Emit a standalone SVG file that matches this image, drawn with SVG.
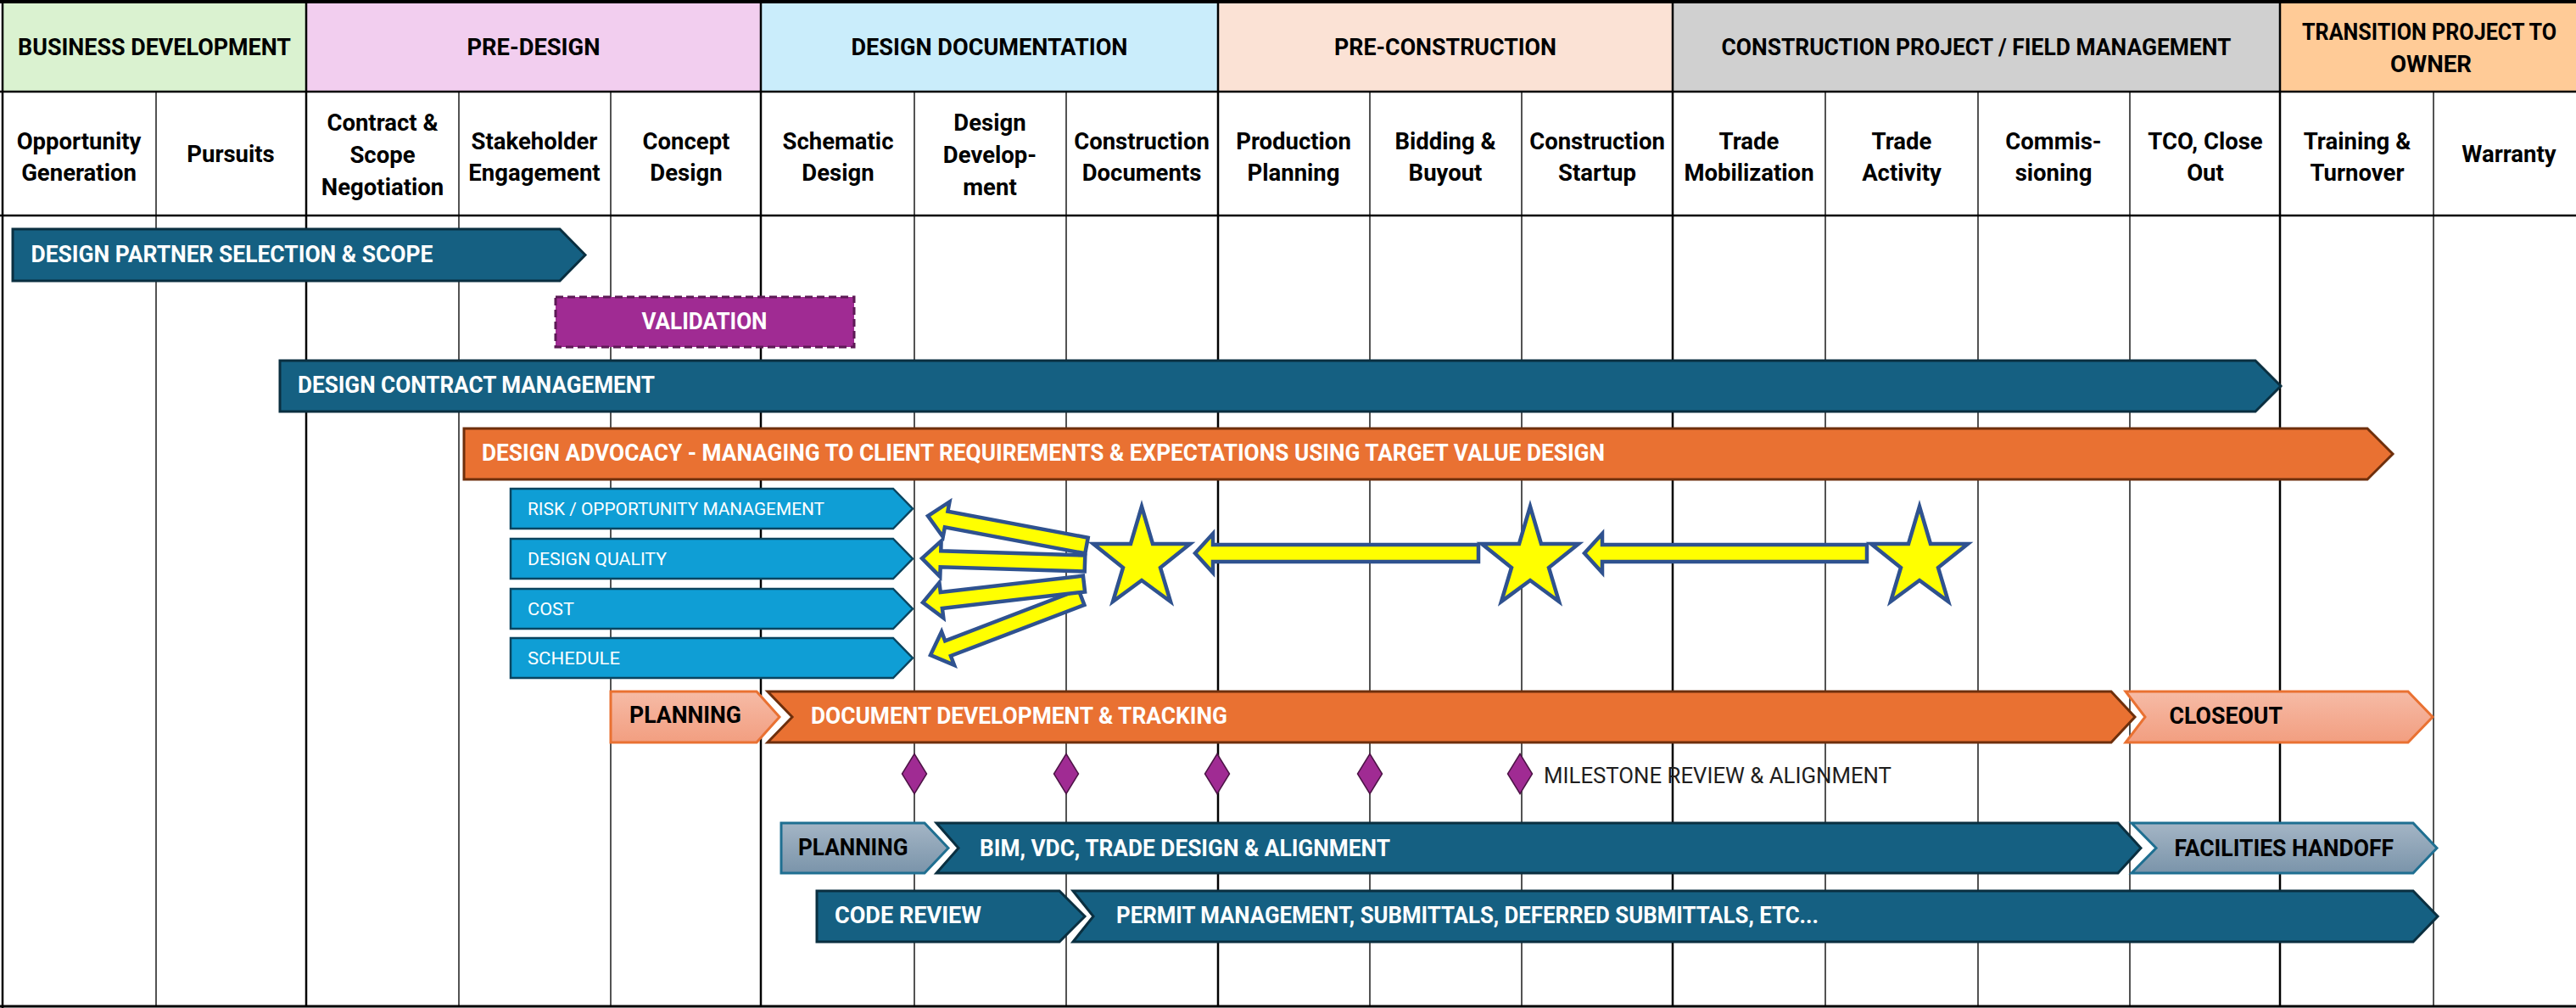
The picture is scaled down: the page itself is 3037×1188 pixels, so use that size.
<svg xmlns="http://www.w3.org/2000/svg" width="3037" height="1188" viewBox="0 0 3037 1188">
<defs>
<linearGradient id="salmon" x1="0" y1="0" x2="0" y2="1"><stop offset="0" stop-color="#F6BBA6"/><stop offset="1" stop-color="#F29E80"/></linearGradient>
<linearGradient id="slate" x1="0" y1="0" x2="0" y2="1"><stop offset="0" stop-color="#A4B5C5"/><stop offset="1" stop-color="#7A94AA"/></linearGradient>
<polygon id="starShape" points="0,-63 13,-19 57,-19 22,9 34,49 0,24 -34,49 -22,9 -57,-19 -13,-19"/>
</defs>
<style>
.hdr{font-family:Roboto,'Liberation Sans',sans-serif;font-weight:700;font-size:28px;fill:#000;text-anchor:middle}
.sub{font-family:Roboto,'Liberation Sans',sans-serif;font-weight:700;font-size:27.5px;fill:#000;text-anchor:middle}
.bt{font-family:Roboto,'Liberation Sans',sans-serif;font-weight:700;font-size:27px;fill:#fff}
.bk{fill:#000}
.sm{font-family:Roboto,'Liberation Sans',sans-serif;font-weight:400;font-size:21px;fill:#fff}
.ms{font-family:Roboto,'Liberation Sans',sans-serif;font-weight:400;font-size:25px;fill:#1e1e1e}
.teal{fill:#156082;stroke:#0A2F40;stroke-width:3}
.orange{fill:#E97132;stroke:#6E2F0C;stroke-width:3}
.lblue{fill:#0F9ED5;stroke:#0A4560;stroke-width:2.5}
.salmon{fill:url(#salmon);stroke:#E97132;stroke-width:3}
.slate{fill:url(#slate);stroke:#1F6F91;stroke-width:3}
.ylw{fill:#FFFF00;stroke:#2F528F;stroke-width:4.5;stroke-linejoin:miter}
.dia{fill:#A02B93;stroke:#4D1446;stroke-width:1.5}
.thick{stroke:#000;stroke-width:2.5}
.thin{stroke:#1a1a1a;stroke-width:1.5}
</style>
<rect x="0" y="0" width="3037" height="1188" fill="#fff"/>

<g id="phase-headers">
<g id="ph-business"><rect x="3" y="3" width="358" height="105" fill="#DAF2D0"/><text class="hdr" x="182" y="65" textLength="322" lengthAdjust="spacingAndGlyphs">BUSINESS DEVELOPMENT</text></g>
<g id="ph-predesign"><rect x="361" y="3" width="536" height="105" fill="#F2CEEF"/><text class="hdr" x="629" y="65" textLength="157" lengthAdjust="spacingAndGlyphs">PRE-DESIGN</text></g>
<g id="ph-designdoc"><rect x="897" y="3" width="539" height="105" fill="#CAEDFB"/><text class="hdr" x="1166.5" y="65" textLength="326" lengthAdjust="spacingAndGlyphs">DESIGN DOCUMENTATION</text></g>
<g id="ph-precon"><rect x="1436" y="3" width="536" height="105" fill="#FBE2D5"/><text class="hdr" x="1704" y="65" textLength="262" lengthAdjust="spacingAndGlyphs">PRE-CONSTRUCTION</text></g>
<g id="ph-construction"><rect x="1972" y="3" width="716" height="105" fill="#D0D0D0"/><text class="hdr" x="2330" y="65" textLength="601" lengthAdjust="spacingAndGlyphs">CONSTRUCTION PROJECT / FIELD MANAGEMENT</text></g>
<g id="ph-transition"><rect x="2688" y="3" width="349" height="105" fill="#FFCB97"/><text class="hdr" x="2864" y="47" textLength="300" lengthAdjust="spacingAndGlyphs">TRANSITION PROJECT TO</text><text class="hdr" x="2866" y="85" textLength="96" lengthAdjust="spacingAndGlyphs">OWNER</text></g>
</g>

<g id="sub-headers">
<text class="sub" x="93" y="176">Opportunity<tspan x="93" y="213">Generation</tspan></text>
<text class="sub" x="272" y="191">Pursuits</text>
<text class="sub" x="451" y="154">Contract &amp;<tspan x="451" y="192">Scope</tspan><tspan x="451" y="230">Negotiation</tspan></text>
<text class="sub" x="630" y="176">Stakeholder<tspan x="630" y="213">Engagement</tspan></text>
<text class="sub" x="809" y="176">Concept<tspan x="809" y="213">Design</tspan></text>
<text class="sub" x="988" y="176">Schematic<tspan x="988" y="213">Design</tspan></text>
<text class="sub" x="1167" y="154">Design<tspan x="1167" y="192">Develop-</tspan><tspan x="1167" y="230">ment</tspan></text>
<text class="sub" x="1346" y="176">Construction<tspan x="1346" y="213">Documents</tspan></text>
<text class="sub" x="1525" y="176">Production<tspan x="1525" y="213">Planning</tspan></text>
<text class="sub" x="1704" y="176">Bidding &amp;<tspan x="1704" y="213">Buyout</tspan></text>
<text class="sub" x="1883" y="176">Construction<tspan x="1883" y="213">Startup</tspan></text>
<text class="sub" x="2062" y="176">Trade<tspan x="2062" y="213">Mobilization</tspan></text>
<text class="sub" x="2242" y="176">Trade<tspan x="2242" y="213">Activity</tspan></text>
<text class="sub" x="2421" y="176">Commis-<tspan x="2421" y="213">sioning</tspan></text>
<text class="sub" x="2600" y="176">TCO, Close<tspan x="2600" y="213">Out</tspan></text>
<text class="sub" x="2779" y="176">Training &amp;<tspan x="2779" y="213">Turnover</tspan></text>
<text class="sub" x="2958" y="191">Warranty</text>
</g>

<g id="grid">
<line class="thin" x1="184" y1="108" x2="184" y2="1186"/>
<line class="thin" x1="541" y1="108" x2="541" y2="1186"/>
<line class="thin" x1="720" y1="108" x2="720" y2="1186"/>
<line class="thin" x1="1078" y1="108" x2="1078" y2="1186"/>
<line class="thin" x1="1257" y1="108" x2="1257" y2="1186"/>
<line class="thin" x1="1615" y1="108" x2="1615" y2="1186"/>
<line class="thin" x1="1794" y1="108" x2="1794" y2="1186"/>
<line class="thin" x1="2152" y1="108" x2="2152" y2="1186"/>
<line class="thin" x1="2332" y1="108" x2="2332" y2="1186"/>
<line class="thin" x1="2511" y1="108" x2="2511" y2="1186"/>
<line class="thin" x1="2869" y1="108" x2="2869" y2="1186"/>
<line class="thick" x1="3" y1="0" x2="3" y2="1188"/>
<line class="thick" x1="361" y1="2" x2="361" y2="1186"/>
<line class="thick" x1="897" y1="2" x2="897" y2="1186"/>
<line class="thick" x1="1436" y1="2" x2="1436" y2="1186"/>
<line class="thick" x1="1972" y1="2" x2="1972" y2="1186"/>
<line class="thick" x1="2688" y1="2" x2="2688" y2="1186"/>
<line x1="0" y1="2" x2="3037" y2="2" stroke="#000" stroke-width="4"/>
<line class="thick" x1="0" y1="108" x2="3037" y2="108"/>
<line class="thick" x1="0" y1="254" x2="3037" y2="254"/>
<line x1="0" y1="1186" x2="3037" y2="1186" stroke="#000" stroke-width="3"/>
</g>

<g id="design-partner-selection">
<polygon class="teal" points="15,270 660,270 690,300.5 660,331 15,331"/>
<text class="bt" x="36.5" y="308.5" textLength="474" lengthAdjust="spacingAndGlyphs">DESIGN PARTNER SELECTION &amp; SCOPE</text>
</g>
<g id="validation">
<rect x="655" y="350" width="352" height="59" fill="#A02B93" stroke="#5C1A55" stroke-width="3" stroke-dasharray="9 5"/>
<text class="bt" x="830.5" y="387.5" text-anchor="middle" textLength="148" lengthAdjust="spacingAndGlyphs">VALIDATION</text>
</g>
<g id="design-contract-management">
<polygon class="teal" points="330,425 2659,425 2689,455 2659,485 330,485"/>
<text class="bt" x="351" y="463" textLength="421" lengthAdjust="spacingAndGlyphs">DESIGN CONTRACT MANAGEMENT</text>
</g>
<g id="design-advocacy">
<polygon class="orange" points="547,505 2791,505 2821,535 2791,565 547,565"/>
<text class="bt" x="568" y="543" textLength="1324" lengthAdjust="spacingAndGlyphs">DESIGN ADVOCACY - MANAGING TO CLIENT REQUIREMENTS &amp; EXPECTATIONS USING TARGET VALUE DESIGN</text>
</g>
<g id="risk-opportunity">
<polygon class="lblue" points="602,576 1053,576 1076,599.5 1053,623 602,623"/>
<text class="sm" x="622" y="607" textLength="350" lengthAdjust="spacingAndGlyphs">RISK / OPPORTUNITY MANAGEMENT</text>
</g>
<g id="design-quality">
<polygon class="lblue" points="602,635 1053,635 1076,658.5 1053,682 602,682"/>
<text class="sm" x="622" y="666" textLength="164" lengthAdjust="spacingAndGlyphs">DESIGN QUALITY</text>
</g>
<g id="cost">
<polygon class="lblue" points="602,694 1053,694 1076,717.5 1053,741 602,741"/>
<text class="sm" x="622" y="725" textLength="55" lengthAdjust="spacingAndGlyphs">COST</text>
</g>
<g id="schedule">
<polygon class="lblue" points="602,752 1053,752 1076,775.5 1053,799 602,799"/>
<text class="sm" x="622" y="783" textLength="109" lengthAdjust="spacingAndGlyphs">SCHEDULE</text>
</g>

<g id="star-1"><use href="#starShape" class="ylw" x="1346" y="660"/></g>
<g id="star-2"><use href="#starShape" class="ylw" x="1804" y="660"/></g>
<g id="star-3"><use href="#starShape" class="ylw" x="2263" y="660"/></g>

<g id="planning-1">
<polygon class="salmon" points="720,815 892,815 919,845 892,875 720,875"/>
<text class="bt bk" x="742" y="852" textLength="132" lengthAdjust="spacingAndGlyphs">PLANNING</text>
</g>
<g id="document-development">
<polygon class="orange" points="905,815 2489,815 2517,845 2489,875 905,875 934,845"/>
<text class="bt" x="956" y="852.5" textLength="491" lengthAdjust="spacingAndGlyphs">DOCUMENT DEVELOPMENT &amp; TRACKING</text>
</g>
<g id="closeout">
<polygon class="salmon" points="2506,815 2839,815 2868,845 2839,875 2506,875 2529,845"/>
<text class="bt bk" x="2557.5" y="853" textLength="133.5" lengthAdjust="spacingAndGlyphs">CLOSEOUT</text>
</g>

<g id="milestones">
<polygon class="dia" points="1078,888.5 1092.5,912 1078,935.5 1063.5,912"/>
<polygon class="dia" points="1257,888.5 1271.5,912 1257,935.5 1242.5,912"/>
<polygon class="dia" points="1435,888.5 1449.5,912 1435,935.5 1420.5,912"/>
<polygon class="dia" points="1615,888.5 1629.5,912 1615,935.5 1600.5,912"/>
<polygon class="dia" points="1792,888.5 1806.5,912 1792,935.5 1777.5,912"/>
<text class="ms" x="1820" y="923" textLength="410" lengthAdjust="spacingAndGlyphs">MILESTONE REVIEW &amp; ALIGNMENT</text>
</g>

<g id="planning-2">
<polygon class="slate" points="921,970 1090,970 1118,999.5 1090,1029 921,1029"/>
<text class="bt bk" x="941" y="1007.5" textLength="129.5" lengthAdjust="spacingAndGlyphs">PLANNING</text>
</g>
<g id="bim-vdc">
<polygon class="teal" points="1104,970 2497,970 2524,999.5 2497,1029 1104,1029 1130,999.5"/>
<text class="bt" x="1155" y="1008.5" textLength="484" lengthAdjust="spacingAndGlyphs">BIM, VDC, TRADE DESIGN &amp; ALIGNMENT</text>
</g>
<g id="facilities-handoff">
<polygon class="slate" points="2513,970 2845,970 2873,999.5 2845,1029 2513,1029 2542,999.5"/>
<text class="bt bk" x="2563.5" y="1009" textLength="258.5" lengthAdjust="spacingAndGlyphs">FACILITIES HANDOFF</text>
</g>
<g id="code-review">
<polygon class="teal" points="963,1050 1249,1050 1279,1080 1249,1110 963,1110"/>
<text class="bt" x="984" y="1087.5" textLength="173" lengthAdjust="spacingAndGlyphs">CODE REVIEW</text>
</g>
<g id="permit-management">
<polygon class="teal" points="1265,1050 2845,1050 2874,1080 2845,1110 1265,1110 1289,1080"/>
<text class="bt" x="1316" y="1088" textLength="828" lengthAdjust="spacingAndGlyphs">PERMIT MANAGEMENT, SUBMITTALS, DEFERRED SUBMITTALS, ETC...</text>
</g>

<g id="connectors">
<polygon class="ylw" points="1743,642 1430,642 1430,629 1409,652 1430,675 1430,662 1743,662"/>
<polygon class="ylw" points="2201,642 1889,642 1889,629 1868,652 1889,675 1889,662 2201,662"/>
<polygon class="ylw" points="1271.6,695.1 1114.2,755.3 1110.1,744.5 1097,772 1125,783.8 1120.9,773 1278.4,712.9"/>
<polygon class="ylw" points="1276.9,678.6 1108.8,698 1107.4,686.6 1088,710 1112.3,728.3 1110.9,716.9 1279.1,697.4"/>
<polygon class="ylw" points="1279.3,654.5 1109.3,649.2 1109.6,637.7 1087,658 1108.3,679.7 1108.7,668.2 1278.7,673.5"/>
<polygon class="ylw" points="1282.7,633.7 1117.4,602.7 1119.5,591.4 1094,608 1111.7,632.7 1113.9,621.4 1279.3,652.3"/>
</g>
</svg>
